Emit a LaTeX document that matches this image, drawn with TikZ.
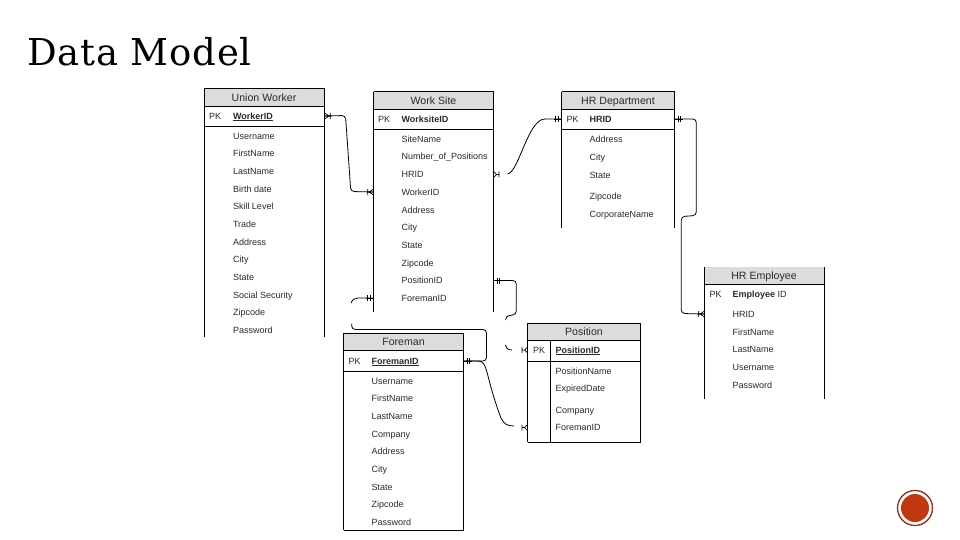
\documentclass[tikz,border=0pt]{standalone}
\usepackage{fontspec}
\setmainfont{Liberation Sans}
\newfontfamily\titlefont[LetterSpace=2.2]{DejaVu Serif}
\usetikzlibrary{calc}
\definecolor{hdrgray}{HTML}{DCDCDC}
\definecolor{rowink}{HTML}{2A2A2A}
\definecolor{badgering}{HTML}{8E3A28}
\definecolor{badgefill}{HTML}{BF380F}
\tikzset{
  framebox/.style={inner sep=0pt,outer sep=0pt,rectangle,anchor=north west},
  rowtext/.style={inner sep=0pt,outer sep=0pt,anchor=west,text height=7.4pt,text depth=1.1pt,text=rowink,font=\fontsize{9}{10}\selectfont},
  hdrtext/.style={inner sep=0pt,outer sep=0pt,text height=7.6pt,text depth=1.1pt,text=rowink,font=\fontsize{10.6}{11}\selectfont},
  edge/.style={line width=0.8pt,black},
  link/.style={line width=0.8pt,black,rounded corners=3.5pt},
  crow/.pic={
    % origin on the table edge, the line leaves towards +x
    \draw[line width=0.7pt] (0,-3) -- (4.5,0) -- (0,3) (0,0) -- (7,0) (5.8,-3) -- (5.8,3);
  },
  onebar/.pic={
    \draw[line width=0.7pt] (0,0) -- (8,0) (3.5,-3) -- (3.5,3) (6,-3) -- (6,3);
  },
  crowgap/.pic={
    \draw[line width=0.7pt] (0,-3) -- (3,0) -- (0,3) (3,0) -- (5.5,0) (5.5,-3) -- (5.5,3);
  },
}
% name, x, top, width, height
\newcommand{\erframe}[5]{%
  \node[framebox,minimum width=#4pt,minimum height=#5pt] (#1) at (#2,#3) {};
  \fill[hdrgray] (#1.north west) rectangle ($(#1.north east)+(0,17.5)$);
  \draw[edge] (#1.north west) -- (#1.south west) (#1.north east) -- (#1.south east)
     ($(#1.north west)+(0,17.5)$) -- ($(#1.north east)+(0,17.5)$);
}
\newcommand{\ertop}[1]{\draw[edge] (#1.north west) -- (#1.north east);}
\newcommand{\erpkline}[1]{\draw[edge] ($(#1.north west)+(0,38)$) -- ($(#1.north east)+(0,38)$);}
\begin{document}
\begin{tikzpicture}[x=1pt,y=-1pt]
\useasboundingbox[fill=white] (0,0) rectangle (960,540);

\node[inner sep=0pt,anchor=base west,font=\titlefont\fontsize{37}{40}\selectfont] (title) at (27,65.5) {Data Model};

% ---------- Union Worker
\erframe{uw}{204.5}{88.5}{120}{248.5}\ertop{uw}\erpkline{uw}
\node[hdrtext] (uwt) at (264,98) {Union Worker};
\node[rowtext] (uwk) at (209,116) {PK};
\node[rowtext,font=\fontsize{9}{10}\selectfont\bfseries] (uwpk) at (233,116) {\underline{WorkerID}};
\foreach \t/\y [count=\i] in {Username/136,FirstName/153.7,LastName/171,Birth date/189,Skill Level/206,Trade/224,Address/242,City/259,State/277,Social Security/295,Zipcode/312.5,Password/330}
  \node[rowtext] (uw\i) at (233,\y) {\t};

% ---------- Work Site
\erframe{ws}{373.5}{91.7}{120}{220.6}\ertop{ws}\erpkline{ws}
\node[hdrtext] (wst) at (433.5,101) {Work Site};
\node[rowtext] (wsk) at (378,119) {PK};
\node[rowtext,font=\fontsize{9}{10}\selectfont\bfseries] (wspk) at (401.5,119) {WorksiteID};
\foreach \t/\y/\n in {SiteName/139/sn,Number\_of\_Positions/156.7/np,HRID/174.5/hr,WorkerID/192/wk,Address/210/ad,City/227.7/ci,State/245/st,Zipcode/263/zp,PositionID/280.5/po,ForemanID/298/fo}
  \node[rowtext] (ws\n) at (401.5,\y) {\t};

% ---------- HR Department
\erframe{hd}{561.5}{91.7}{113}{136.6}\ertop{hd}\erpkline{hd}
\node[hdrtext] (hdt) at (618,101) {HR Department};
\node[rowtext] (hdk) at (566.5,119) {PK};
\node[rowtext,font=\fontsize{9}{10}\selectfont\bfseries] (hdpk) at (589.5,119) {HRID};
\foreach \t/\y [count=\i] in {Address/139,City/157,State/175,Zipcode/196.5,CorporateName/214}
  \node[rowtext] (hd\i) at (589.5,\y) {\t};

% ---------- HR Employee
\erframe{he}{704.5}{267.3}{120}{132}
\node[hdrtext] (het) at (764,276.5) {HR Employee};
\node[rowtext] (hek) at (709.5,294) {PK};
\node[rowtext] (hepk) at (732.5,294) {\textbf{Employee} ID};
\foreach \t/\y/\n in {HRID/314/hr,FirstName/332/fn,LastName/349.5/ln,Username/367.5/un,Password/385/pw}
  \node[rowtext] (he\n) at (732.5,\y) {\t};

% ---------- Foreman
\erframe{fm}{343.5}{333.3}{120}{196.7}\ertop{fm}\erpkline{fm}
\draw[edge] (fm.south west) -- (fm.south east);
\node[hdrtext] (fmt) at (403.5,342) {Foreman};
\node[rowtext] (fmk) at (348.5,361) {PK};
\node[rowtext,font=\fontsize{9}{10}\selectfont\bfseries] (fmpk) at (371.5,361) {\underline{ForemanID}};
\foreach \t/\y [count=\i] in {Username/381,FirstName/398.5,LastName/416,Company/434,Address/451.5,City/469,State/487,Zipcode/504.5,Password/522}
  \node[rowtext] (fm\i) at (371.5,\y) {\t};

% ---------- Position
\erframe{ps}{527.5}{323.3}{113}{118.7}\ertop{ps}\erpkline{ps}
\draw[edge] (ps.south west) -- (ps.south east);
\draw[edge] ($(ps.north west)+(23.2,17.5)$) -- ($(ps.south west)+(23.2,0)$);
\node[hdrtext] (pst) at (584,332) {Position};
\node[rowtext] (psk) at (533,350) {PK};
\node[rowtext,font=\fontsize{9}{10}\selectfont\bfseries] (pspk) at (555.7,350) {\underline{PositionID}};
\foreach \t/\y/\n in {PositionName/371/pn,ExpiredDate/388.5/ed,Company/410/co,ForemanID/427.5/fo}
  \node[rowtext] (ps\n) at (555.7,\y) {\t};

% ---------- connector ends on the tables
\coordinate (uwE) at (uw.east |- uwpk);
\coordinate (wsWk) at (ws.west |- wswk);
\coordinate (wsHr) at (ws.east |- wshr);
\coordinate (hdW) at (hd.west |- hdpk);
\coordinate (hdE) at (hd.east |- hdpk);
\coordinate (heW) at (he.west |- hehr);
\coordinate (wsPo) at (ws.east |- wspo);
\coordinate (wsFo) at (ws.west |- wsfo);
\coordinate (fmE) at (fm.east |- fmpk);
\coordinate (psK) at ($(ps.west |- pspk)+(-6,0)$);
\coordinate (psF) at ($(ps.west |- psfo)+(-6,0)$);
\coordinate (gapA) at (505.7,320);
\coordinate (gapB) at (505.3,345);
\coordinate (gapC) at (512,350);
\coordinate (gapD) at (351.7,323.5);
\coordinate (gapE) at (351.2,303);
\coordinate (gapG) at (507.5,174);
\coordinate (gapH) at (514,426);

% Union Worker -- Work Site
\draw[link] (uwE) -- (345.5,115.5) -- (350.8,191.5) -- (wsWk);
\pic at (uwE) {crow};
\pic[xscale=-1] at (wsWk) {crow};

% Work Site -- HR Department
\draw[line width=0.8pt] (gapG) .. controls (519,172) and (528,119) .. (545,119) -- (hdW);
\pic at (wsHr) {crowgap};
\pic[xscale=-1] at (hdW) {onebar};

% HR Department -- HR Employee
\draw[link] (hdE) -- (696.3,119) -- (696.3,215.5) -- (681.3,216.5) -- (681.3,313.5) -- (heW);
\pic at (hdE) {onebar};
\pic[xscale=-1] at (heW) {crow};

% Work Site -- Position
\draw[link] (wsPo) -- (516.3,280.5) -- (516.3,314.5) -- (505.7,316) -- (gapA);
\draw[line width=0.8pt] (gapB) .. controls (505.5,348) and (508,350) .. (gapC);
\pic at (wsPo) {onebar};
\pic[xscale=-1] at ($(psK)+(6,0)$) {crowgap};

% Foreman -- Work Site
\draw[link] (fmE) -- (486.5,361) -- (486.5,329.5) -- (351.7,329.5) -- (gapD);
\draw[line width=0.8pt] (gapE) .. controls (352,299.5) and (355,298) .. (358,298) -- (wsFo);
\pic at (fmE) {onebar};
\pic[xscale=-1] at (wsFo) {onebar};

% Foreman -- Position
\draw[line width=0.8pt] (fmE) -- (478,361) .. controls (483,361) and (485,364) .. (488,376) .. controls (492,392) and (497,408) .. (501,418) .. controls (504,424) and (507,426) .. (gapH);
\pic[xscale=-1] at ($(psF)+(6,0)$) {crowgap};

% ---------- badge
\node[circle,draw=badgering,line width=1.4pt,fill=white,minimum size=35pt,inner sep=0pt] (badge) at (915,508) {};
\node[circle,fill=badgefill,minimum size=28pt,inner sep=0pt] (badgein) at (badge.center) {};
\end{tikzpicture}
\end{document}
